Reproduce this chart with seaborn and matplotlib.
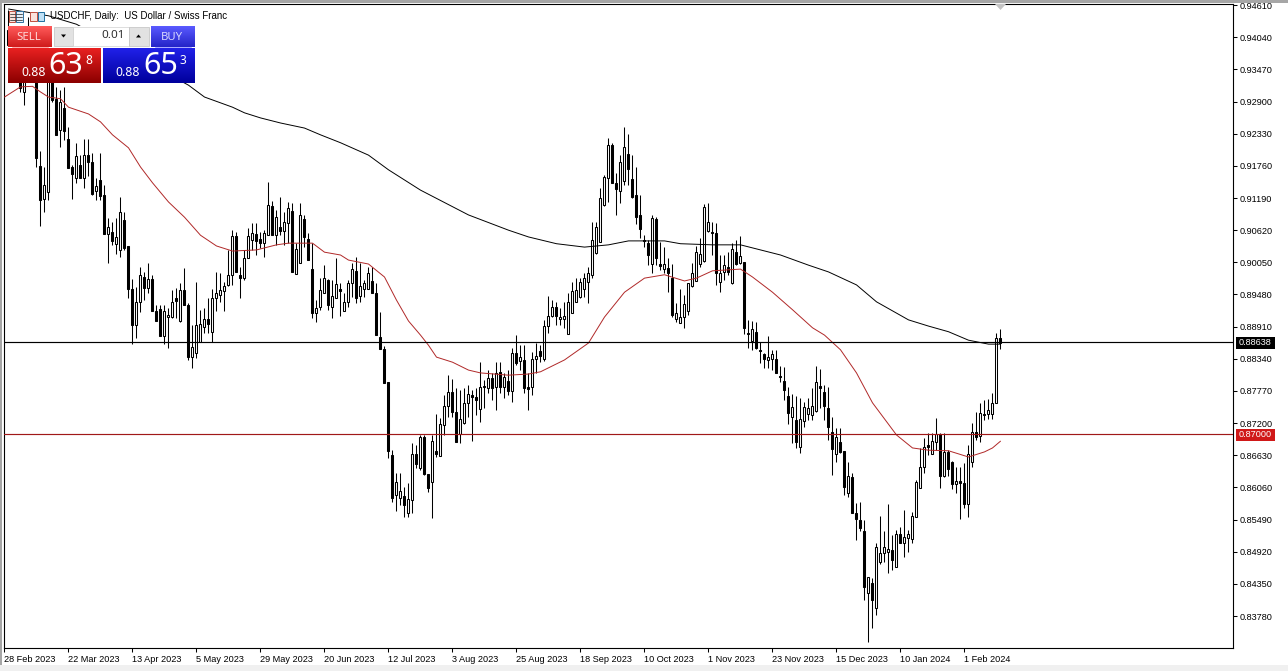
import numpy as np
import pandas as pd
import seaborn as sns
import matplotlib
matplotlib.use("Agg")
import matplotlib.pyplot as plt
from matplotlib.patches import Rectangle, Polygon

# ---- candle data, price x 10000, one entry per daily bar (bar numbers 1..249)
highs = [9452,9417,9417,9417,9399,9440,9417,9399,9202,9174,9399,9381,9316,9310,9316,9245,9178,9217,9195,9224,
9224,9199,9154,9199,9142,9084,9077,9084,9121,9094,9034,8975,8961,8997,8988,9004,8983,8929,8929,8929,
8924,8956,8960,8968,8995,8933,8894,8970,8921,8924,8942,8958,8988,8986,8970,9027,9062,9059,8997,9027,
9066,9075,9075,9059,9062,9147,9114,9098,9121,9094,9112,9110,9039,9110,9089,9057,9039,8938,8977,9000,
8975,8974,9013,8968,8951,8974,9004,9014,9004,8974,8997,8997,8968,8917,8857,8793,8672,8632,8632,8607,
8614,8685,8681,8699,8699,8630,8699,8736,8729,8770,8805,8798,8782,8779,8782,8788,8779,8782,8828,8796,
8814,8809,8828,8828,8809,8814,8853,8876,8858,8858,8809,8846,8862,8858,8903,8945,8938,8935,8924,8935,
8951,8970,8977,8977,8986,8997,9077,9077,9137,9160,9225,9217,9163,9195,9245,9232,9195,9174,9124,9053,
9045,9089,9085,9041,9032,9013,9002,8933,8958,8947,8968,9004,9034,9048,9108,9110,9076,9075,9018,9018,
9023,9039,9045,9052,9006,8903,8901,8899,8864,8844,8874,8850,8850,8821,8820,8784,8772,8768,8765,8757,
8765,8782,8821,8816,8788,8784,8731,8711,8711,8671,8651,8632,8578,8580,8548,8447,8445,8508,8555,8529,
8577,8522,8531,8536,8566,8531,8562,8619,8676,8694,8703,8703,8729,8703,8703,8672,8653,8642,8642,8649,
8681,8720,8740,8756,8761,8763,8773,8880,8887]
body_tops = [9417,9408,9399,9381,9364,9413,9399,9373,9176,9142,9364,9355,9295,9289,9279,9224,9174,9193,9178,9195,
9195,9183,9140,9151,9124,9068,9059,9050,9094,9080,9034,8958,8935,8983,8979,8975,8975,8919,8922,8919,
8912,8935,8942,8956,8956,8929,8855,8894,8896,8905,8905,8942,8951,8956,8963,8983,9052,9052,8983,9013,
9052,9057,9055,9046,9057,9107,9105,9085,9068,9077,9101,9096,9029,9089,9082,9046,8993,8924,8956,8977,
8974,8945,8967,8958,8935,8968,8993,8990,8963,8968,8986,8972,8951,8873,8851,8793,8664,8616,8600,8591,
8586,8665,8665,8695,8695,8630,8688,8671,8718,8750,8775,8775,8740,8727,8756,8772,8770,8766,8784,8786,
8800,8800,8809,8811,8802,8795,8844,8844,8837,8832,8784,8834,8839,8848,8892,8910,8926,8926,8908,8910,
8935,8954,8956,8970,8977,8986,9045,9068,9119,9156,9213,9213,9146,9183,9209,9197,9153,9124,9089,9045,
9039,9084,9082,9002,9002,8995,8977,8915,8908,8931,8968,8986,9023,9020,9103,9076,9059,9057,8986,9000,
8997,9029,9023,9016,9006,8880,8887,8882,8850,8843,8837,8843,8834,8804,8795,8768,8749,8726,8727,8749,
8747,8750,8793,8786,8775,8747,8704,8695,8687,8671,8626,8625,8561,8548,8529,8447,8437,8500,8490,8500,
8497,8495,8523,8523,8518,8523,8555,8616,8642,8678,8681,8688,8701,8701,8669,8669,8651,8617,8617,8614,
8665,8704,8704,8738,8736,8743,8756,8871,8871]
body_bottoms = [9390,9381,9373,9314,9307,9364,9364,9190,9116,9117,9130,9293,9231,9240,9238,9172,9162,9154,9154,9154,
9183,9126,9131,9123,9055,9055,9043,9038,9027,9030,8958,8894,8894,8935,8960,8960,8919,8901,8874,8874,
8908,8908,8936,8901,8929,8837,8837,8844,8864,8890,8896,8882,8942,8947,8954,8965,8983,8988,8977,8977,
9013,9045,9043,9039,9039,9053,9053,9053,9061,9061,9075,8988,8984,9004,9050,9009,8915,8915,8926,8951,
8929,8926,8942,8954,8919,8935,8968,8942,8945,8958,8958,8951,8876,8851,8791,8671,8587,8593,8587,8575,
8561,8584,8648,8640,8630,8605,8616,8665,8662,8717,8750,8740,8687,8701,8720,8756,8766,8761,8745,8784,
8782,8782,8784,8784,8784,8777,8777,8827,8830,8782,8780,8784,8834,8839,8834,8892,8910,8910,8905,8905,
8878,8915,8935,8944,8958,8970,8983,9022,9041,9107,9154,9146,9135,9131,9149,9170,9121,9085,9064,9043,
9018,9002,9013,8999,8993,8986,8912,8905,8897,8908,8919,8963,8972,9002,9007,9061,9057,8986,8970,8988,
8988,8968,9002,9004,8889,8878,8866,8853,8848,8834,8832,8834,8809,8802,8779,8738,8731,8687,8678,8724,
8736,8734,8741,8782,8750,8713,8674,8665,8669,8607,8596,8561,8550,8534,8430,8419,8406,8392,8474,8490,
8492,8477,8465,8508,8508,8516,8515,8554,8605,8642,8678,8665,8687,8626,8626,8639,8612,8612,8614,8577,
8577,8651,8695,8697,8734,8736,8736,8756,8862]
lows = [9364,9364,9355,9307,9284,9346,9346,9174,9069,9094,9116,9289,9231,9209,9222,9172,9117,9146,9154,9137,
9158,9124,9116,9116,9055,9004,9036,9020,9014,9027,8942,8860,8871,8917,8938,8951,8919,8901,8874,8860,
8853,8906,8906,8899,8929,8832,8818,8835,8864,8880,8880,8864,8919,8935,8919,8963,8965,8988,8942,8974,
9013,9027,9018,9030,9014,9053,9053,9036,9053,9036,9039,8988,8984,9004,9032,9009,8906,8899,8921,8951,
8921,8906,8942,8910,8919,8926,8944,8933,8935,8944,8958,8951,8876,8851,8791,8658,8580,8564,8575,8554,
8554,8561,8640,8637,8628,8598,8552,8660,8662,8699,8731,8731,8687,8685,8718,8731,8688,8734,8722,8747,
8773,8761,8743,8773,8765,8770,8757,8823,8814,8773,8743,8770,8809,8828,8830,8880,8908,8894,8894,8889,
8878,8915,8935,8942,8944,8933,8977,9020,9041,9105,9112,9146,9089,9110,9142,9142,9119,9073,9048,9032,
9000,8986,9000,8991,8986,8952,8908,8899,8897,8889,8912,8961,8972,8997,9006,9059,9018,8965,8952,8974,
8983,8967,9000,9002,8878,8853,8850,8851,8827,8818,8818,8814,8809,8793,8761,8718,8685,8676,8667,8713,
8726,8726,8740,8747,8726,8690,8628,8651,8667,8593,8589,8561,8513,8529,8406,8332,8357,8380,8470,8474,
8454,8460,8465,8508,8483,8492,8508,8554,8605,8632,8664,8665,8672,8605,8625,8626,8603,8596,8550,8570,
8554,8642,8690,8687,8726,8727,8727,8756,8851]
# U = rising (hollow) bar, D = falling (filled) bar
direction = ("UDUDUDUDDU" "UDDUDDDUDU" "DDUDDUDUUD" "DDUUDUDDDU" "UUDUDDUUUU"
             "DUUUUUUDDU" "UUDDUUDUDU" "UDUUDDDUUU" "DUUDUUUDUU" "UDDDDDDUUD"
             "UUDUDDUDUU" "UDDUUUDDUD" "UDUDUDUDUD" "DUUDUUUDUU" "UUUUUUUUUU"
             "UDDUUDDDDD" "DUDDUDDUUU" "UUUUUUDDUU" "DUDUDDUDDD" "UUDDDDUDUU"
             "UUUDDDDUDD" "UDDDDUDUUU" "UDUDUUUUUU" "DUUDUDDUDD" "UUDUDUUUD")

# ---- moving averages (bar number, price x 10000)
red_ma_bars = [0,2,4,7,9,11,14,16,21,24,27,31,34,37,41,45,49,53,57,63,68,71,74,77,80,84,86,91,95,98,101,104,106,108,112,116,119,126,131,134,140,146,150,155,160,165,170,173,177,184,187,192,197,202,205,209,213,217,223,227,231,236,241,245,247,249]
red_ma_vals = [9298,9307,9316,9317,9307,9298,9295,9280,9268,9254,9231,9208,9174,9146,9112,9085,9053,9034,9025,9027,9036,9039,9039,9039,9023,9018,9009,9002,8979,8938,8901,8876,8858,8837,8828,8814,8809,8805,8807,8811,8832,8862,8908,8952,8977,8983,8972,8977,8990,8993,8979,8952,8921,8889,8876,8850,8809,8756,8699,8676,8672,8671,8660,8669,8676,8688]
black_ma_bars = [1,11,18,46,50,57,60,64,69,75,79,84,91,96,104,116,126,131,138,145,151,156,165,169,177,184,189,194,201,206,213,218,226,231,236,241,246,249]
black_ma_vals = [9454,9442,9427,9319,9298,9280,9270,9261,9252,9243,9231,9217,9195,9169,9133,9089,9062,9050,9038,9032,9036,9043,9043,9038,9036,9036,9027,9018,9000,8988,8965,8935,8903,8892,8882,8867,8860,8860]

price_ticks = [0.94610,0.94040,0.93470,0.92900,0.92330,0.91760,0.91190,0.90620,0.90050,0.89480,0.88910,0.88340,0.87770,0.87200,0.86630,0.86060,0.85490,0.84920,0.84350,0.83780]
date_labels = ["28 Feb 2023","22 Mar 2023","13 Apr 2023","5 May 2023","29 May 2023","20 Jun 2023","12 Jul 2023","3 Aug 2023","25 Aug 2023","18 Sep 2023","10 Oct 2023","1 Nov 2023","23 Nov 2023","15 Dec 2023","10 Jan 2024","1 Feb 2024"]
date_ticks = list(range(0, 256, 16))
bid_line = 0.88638
level_line = 0.87000

sns.set_theme(style="white")
UI_FONT = ["Liberation Sans", "DejaVu Sans"]
plt.rcParams["font.family"] = UI_FONT

W, H = 1288, 671
fig = plt.figure(figsize=(W/100, H/100), dpi=100, facecolor="white")
ax = fig.add_axes([4/W, 1-648/H, (1233.5-4)/W, (648-4)/H])

n = min(len(highs), len(lows), len(body_tops), len(body_bottoms), len(direction))
bars = np.arange(1, n+1)
hi = np.array(highs[:n])/1e4
lo = np.array(lows[:n])/1e4
top = np.array(body_tops[:n])/1e4
bot = np.array(body_bottoms[:n])/1e4
up = np.array([c == "U" for c in direction[:n]])

ax.vlines(bars, lo, hi, color="black", lw=0.75, zorder=3)
ax.bar(bars[up], (top-bot)[up], bottom=bot[up], width=0.5, facecolor="white", edgecolor="black", lw=0.75, zorder=4)
ax.bar(bars[~up], (top-bot)[~up], bottom=bot[~up], width=0.5, facecolor="black", edgecolor="black", lw=0.75, zorder=4)

red_df = pd.DataFrame({"bar": red_ma_bars, "price": np.array(red_ma_vals)/1e4})
black_df = pd.DataFrame({"bar": black_ma_bars, "price": np.array(black_ma_vals)/1e4})
sns.lineplot(data=red_df, x="bar", y="price", color="#b02828", lw=0.7, ax=ax, zorder=5, estimator=None, sort=False)
sns.lineplot(data=black_df, x="bar", y="price", color="black", lw=0.7, ax=ax, zorder=5, estimator=None, sort=False)

ax.axhline(bid_line, color="black", lw=0.85, zorder=6)
ax.axhline(level_line, color="#a01818", lw=0.85, zorder=6)

ax.set_xlim(-0.125, 307.25)
ax.set_ylim(0.83214, 0.94629)
ax.set_xlabel(""); ax.set_ylabel("")
ax.yaxis.tick_right()
ax.set_yticks(price_ticks)
ax.set_yticklabels([f"{v:.5f}" for v in price_ticks], fontsize=6.55, color="black")
ax.set_xticks(date_ticks)
ax.set_xticklabels(date_labels, fontsize=6.55, color="black", ha="left")
ax.tick_params(axis="y", length=3.2, width=0.75, pad=1.2, color="black", right=True, left=False)
ax.tick_params(axis="x", length=3.2, width=0.75, pad=2, color="black", bottom=True)
for s in ax.spines.values():
    s.set_color("black"); s.set_linewidth(0.8)

# ---- terminal furniture, in pixel coordinates
ui = fig.add_axes([0, 0, 1, 1], zorder=10)
ui.set_xlim(0, W); ui.set_ylim(H, 0); ui.axis("off"); ui.patch.set_alpha(0)

def grad(x0, y0, x1, y1, c0, c1):
    a = np.array(matplotlib.colors.to_rgb(c0)); b = np.array(matplotlib.colors.to_rgb(c1))
    t = np.linspace(0, 1, 32)[:, None, None]
    img = a[None, None, :]*(1-t) + b[None, None, :]*t
    ui.imshow(img, extent=(x0, x1, y1, y0), aspect="auto", zorder=2, interpolation="bilinear")

ui.add_patch(Rectangle((0, 0), W, 3, fc="#a6a6a6", ec="none"))
ui.add_patch(Rectangle((0, 0), 2, H, fc="#a6a6a6", ec="none"))
ui.add_patch(Rectangle((0, 665), W, 6, fc="#f0f0f0", ec="none"))
ui.add_patch(Polygon([(995, 4), (1006, 4), (1000.5, 10)], fc="#c4c4c4", ec="none"))

# price tags
ui.add_patch(Rectangle((1236, 337), 39, 11.5, fc="black", ec="none", zorder=3))
ui.text(1255.5, 342.8, f"{bid_line:.5f}", color="white", fontsize=6.55, ha="center", va="center", zorder=4)
ui.add_patch(Rectangle((1236, 429), 39, 11.5, fc="#d01818", ec="none", zorder=3))
ui.text(1255.5, 434.8, f"{level_line:.5f}", color="white", fontsize=6.55, ha="center", va="center", zorder=4)

# title and icons
ui.text(50, 16, "USDCHF, Daily:  US Dollar / Swiss Franc", fontsize=7.05, color="black", ha="left", va="center", zorder=4)
ui.add_patch(Rectangle((9.5, 11), 6, 11, fc="#fbe3dc", ec="#c05040", lw=0.7, zorder=3))
ui.add_patch(Rectangle((16, 11), 7, 11, fc="#e3f0fb", ec="#3070a0", lw=0.7, zorder=3))
for yy in (14, 17, 20):
    ui.plot([10.5, 22.5], [yy, yy], color="#404040", lw=0.6, zorder=4)
ui.add_patch(Rectangle((30.5, 12), 6.5, 9, fc="#fbe3dc", ec="#c05040", lw=0.7, zorder=3))
ui.add_patch(Rectangle((38.5, 12), 6, 9, fc="#bfe0f5", ec="#2070a0", lw=0.7, zorder=3))

# one-click trading panel
ui.add_patch(Rectangle((8, 26), 187, 57, fc="white", ec="none", zorder=1.5))
grad(8, 26.5, 52, 47.5, "#ff5a5a", "#d01c1c")
grad(151, 26.5, 195, 47.5, "#5a5aff", "#2424c8")
grad(8, 48, 101, 83, "#e82020", "#8c0000")
grad(103, 48, 195, 83, "#2020e8", "#00009c")
ui.plot([12, 48], [47.3, 47.3], color="#ff9a9a", lw=0.6, zorder=3)
ui.plot([155, 191], [47.3, 47.3], color="#9a9aff", lw=0.6, zorder=3)
ui.add_patch(Rectangle((54, 26.5), 19, 19, fc="#e2e2e2", ec="#c0c0c0", lw=0.5, zorder=3))
ui.add_patch(Rectangle((73, 26.5), 56, 19, fc="white", ec="#d0d0d0", lw=0.5, zorder=3))
ui.add_patch(Rectangle((129, 26.5), 20, 19, fc="#e2e2e2", ec="#c0c0c0", lw=0.5, zorder=3))
ui.add_patch(Polygon([(61, 34.5), (66, 34.5), (63.5, 37.5)], fc="black", ec="none", zorder=4))
ui.add_patch(Polygon([(136, 37.5), (141, 37.5), (138.5, 34.5)], fc="black", ec="none", zorder=4))
ui.text(125, 36, "0.01", fontsize=8.4, color="#303030", ha="right", va="center", family="Noto Sans", zorder=5)
ui.text(29, 37, "SELL", fontsize=8.2, color="#ffd8d8", ha="center", va="center", family="Noto Sans", zorder=5)
ui.text(172, 37, "BUY", fontsize=8.2, color="#d8d8ff", ha="center", va="center", family="Noto Sans", zorder=5)
for x88, xbig, xsup, big, sup in [(21, 48, 85, "63", "8"), (115, 143, 180, "65", "3")]:
    ui.text(x88, 73, "0.88", fontsize=8.8, color="white", fontweight="bold", ha="left", va="center", family="Noto Sans", zorder=5)
    ui.text(xbig, 65.5, big, fontsize=22, color="white", ha="left", va="center", family="Noto Sans", zorder=5)
    ui.text(xsup, 60, sup, fontsize=8.6, color="white", fontweight="bold", ha="left", va="center", family="Noto Sans", zorder=5)
ui.set_xlim(0, W); ui.set_ylim(H, 0)

fig.savefig("out.png", dpi=100, facecolor="white")
print(n, len(highs), len(body_tops), len(body_bottoms), len(lows), len(direction))
